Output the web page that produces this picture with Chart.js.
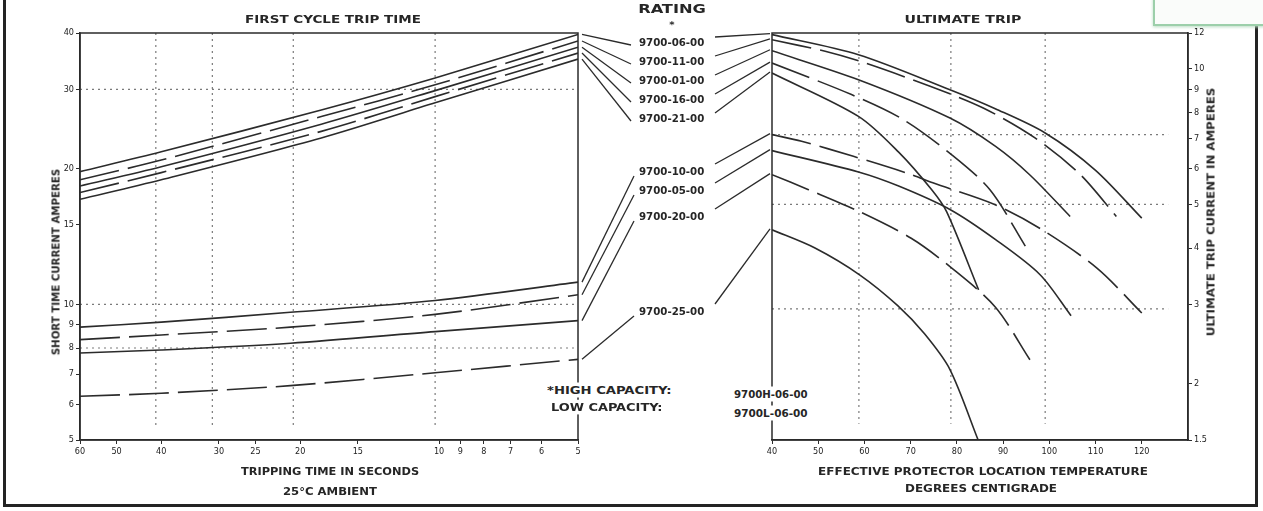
<!DOCTYPE html>
<html>
<head>
<meta charset="utf-8">
<script src="https://cdn.jsdelivr.net/npm/chart.js@4.4.1/dist/chart.umd.min.js"></script>
<style>
  body { margin: 0; background: #fff; }
  #wrap { position: relative; width: 1263px; height: 511px; overflow: hidden; background: #fff;
          font-family: "Liberation Sans Narrow", "DejaVu Sans Condensed", "Liberation Sans", sans-serif; color: #262626; }
  canvas { position: absolute; left: 0; top: 0; }
  .t { position: absolute; white-space: nowrap; line-height: 1; font-size: 11px; font-weight: bold; }
  .c { transform-origin: center center; }
  .l { transform-origin: left center; }
  .frame { position: absolute; left: 3px; top: -4px; width: 1255px; height: 511px; box-sizing: border-box;
           border: 3px solid #232323; border-top: none; }
  .stamp { position: absolute; left: 1153px; top: -3px; width: 112px; height: 29px; box-sizing: border-box;
           border: 2px solid #9ccfaa; background: #fafcfa; box-shadow: 0 1px 3px #b9dcc2; }
</style>
</head>
<body>
<div id="wrap">
  <div class="frame"></div>
  <div class="stamp"></div>
  <canvas id="left" width="1263" height="511"></canvas>
  <canvas id="right" width="1263" height="511"></canvas>
</div>
<script>
// ---- data ----
const upperRatings = ['9700-06-00', '9700-11-00', '9700-01-00', '9700-16-00', '9700-21-00'];
const lowerRatings = ['9700-10-00', '9700-05-00', '9700-20-00', '9700-25-00'];

// first cycle trip time (seconds -> amperes)
const upperTimes = [60, 40, 18, 10.2, 5];
const ft0600 = [19.7, 21.8, 27.0, 31.8, 39.7];
const ft1100 = [18.9, 20.9, 26.1, 30.7, 38.4];
const ft0100 = [18.3, 20.2, 25.1, 29.8, 37.2];
const ft1600 = [17.7, 19.6, 24.2, 28.9, 36.1];
const ft2100 = [17.1, 18.9, 23.4, 28.0, 35.0];
const lowerTimes = [60, 40, 21, 10.2, 5];
const ft1000 = [8.9, 9.13, 9.6, 10.2, 11.2];
const ft0500 = [8.35, 8.55, 8.9, 9.5, 10.5];
const ft2000 = [7.8, 7.92, 8.2, 8.7, 9.2];
const ft2500 = [6.25, 6.35, 6.6, 7.05, 7.55];

// ultimate trip (deg C -> amperes)
const ut0600T = [40, 58.7, 78.5, 88.3, 99.1, 110, 120];
const ut0600A = [11.9, 10.74, 8.98, 8.15, 7.2, 5.95, 4.66];
const ut1100T = [40, 51.5, 60.1, 74.2, 85.7, 96.9, 106.7, 114.5];
const ut1100A = [11.59, 10.93, 10.3, 9.14, 8.18, 7.02, 5.82, 4.7];
const ut0100T = [40, 58.7, 78.5, 88.3, 95.8, 104.5];
const ut0100A = [10.96, 9.45, 7.77, 6.73, 5.81, 4.7];
const ut1600T = [40, 57.2, 68.4, 78.9, 87.2, 94.8];
const ut1600A = [10.29, 8.76, 7.71, 6.44, 5.38, 4.04];
const ut2100T = [40, 58.7, 67.4, 74.6, 77.8, 84.7];
const ut2100A = [9.78, 7.84, 6.53, 5.38, 4.81, 3.23];
const ut1000T = [40, 46.4, 57.6, 70.2, 74.8, 88.3, 98, 110.3, 120];
const ut1000A = [7.14, 6.9, 6.39, 5.82, 5.58, 4.99, 4.42, 3.61, 2.87];
const ut0500T = [40, 58.7, 67.4, 78.5, 88.3, 98, 104.7];
const ut0500A = [6.58, 5.9, 5.49, 4.87, 4.18, 3.49, 2.83];
const ut2000T = [40, 47.9, 58.7, 70.2, 78.9, 88.3, 95.8];
const ut2000A = [5.82, 5.39, 4.83, 4.2, 3.61, 2.96, 2.26];
const ut2500T = [40, 49.3, 59.1, 67.2, 73, 78.5, 84.6];
const ut2500A = [4.39, 4.0, 3.48, 2.98, 2.58, 2.15, 1.5];

// axes
const leftXTicks = [60, 50, 40, 30, 25, 20, 15, 10, 9, 8, 7, 6, 5];
const leftYTicks = [5, 6, 7, 8, 9, 10, 15, 20, 30, 40];
const rightXTicks = [40, 50, 60, 70, 80, 90, 100, 110, 120];
const rightYTicks = [1.5, 2, 3, 4, 5, 6, 7, 8, 9, 10, 12];
const leftHGrid = [30, 10, 8];
const leftVGrid = [41.1, 31.0, 20.7, 10.2];
const rightHGrid = [7.14, 5, 2.93];
const rightVGrid = [58.8, 78.7, 99.1];

// ---- layout ----
const upperLabelY = [42, 61, 80, 99, 118];
const lowerLabelY = [171, 190, 216, 311];
const labelLeft = 639, labelW = 65;

const ink = '#2b2b2b';
Chart.defaults.font.family = '"Liberation Sans Narrow", "DejaVu Sans Condensed", "Liberation Sans", sans-serif';
Chart.defaults.color = '#222';

function series(label, xs, ys, dashed) {
  return {
    label: label,
    data: xs.map((x, i) => ({ x: x, y: ys[i] })),
    borderColor: ink, borderWidth: 1.6, borderDash: dashed ? [40, 9] : [],
    pointRadius: 0, fill: false, tension: 0.3
  };
}

const boxPlugin = {
  id: 'box',
  beforeDatasetsDraw(chart, args, o) {
    const ctx = chart.ctx, xs = chart.scales.x, ys = chart.scales.y;
    ctx.save();
    ctx.strokeStyle = '#7a7a7a'; ctx.lineWidth = 1.2; ctx.setLineDash([2, 4]);
    o.h.forEach(v => {
      const y = ys.getPixelForValue(v);
      ctx.beginPath(); ctx.moveTo(chart.chartArea.left, y); ctx.lineTo(xs.getPixelForValue(o.hTo), y); ctx.stroke();
    });
    o.v.forEach(v => {
      const x = xs.getPixelForValue(v);
      ctx.beginPath(); ctx.moveTo(x, chart.chartArea.top); ctx.lineTo(x, ys.getPixelForValue(o.vTo)); ctx.stroke();
    });
    ctx.restore();
  },
  afterDraw(chart, args, o) {
    const ctx = chart.ctx, a = chart.chartArea;
    ctx.save();
    ctx.strokeStyle = ink; ctx.lineWidth = 1.5;
    ctx.strokeRect(a.left, a.top, a.right - a.left, a.bottom - a.top);
    // leader lines to the rating labels
    ctx.lineWidth = 1.3;
    chart.data.datasets.forEach((ds, i) => {
      const lead = o.leads[i];
      const p = o.atEnd ? ds.data[ds.data.length - 1] : ds.data[0];
      const px = chart.scales.x.getPixelForValue(p.x), py = chart.scales.y.getPixelForValue(p.y);
      ctx.beginPath();
      if (o.atEnd) { ctx.moveTo(px + 4, py); ctx.lineTo(lead[0], lead[1]); }
      else { ctx.moveTo(lead[0], lead[1]); ctx.lineTo(px - 2, py - 1); }
      ctx.stroke();
    });
    ctx.restore();
  }
};

function axis(type, ticks, extra) {
  return Object.assign({
    type: type,
    afterBuildTicks: s => { s.ticks = ticks.map(v => ({ value: v })); },
    ticks: { autoSkip: false, maxRotation: 0, padding: 2, font: { size: 9 }, color: '#222', callback: v => String(v) },
    grid: { drawOnChartArea: false, drawTicks: true, tickLength: 4, color: ink },
    border: { display: true, color: ink, width: 1.5 }
  }, extra);
}

const common = {
  responsive: false, animation: false, devicePixelRatio: 1,
  plugins: { legend: { display: false }, tooltip: { enabled: false } }
};

new Chart(document.getElementById('left'), {
  type: 'line',
  data: {
    datasets: [
      series(upperRatings[0], upperTimes, ft0600, false),
      series(upperRatings[1], upperTimes, ft1100, true),
      series(upperRatings[2], upperTimes, ft0100, false),
      series(upperRatings[3], upperTimes, ft1600, true),
      series(upperRatings[4], upperTimes, ft2100, false),
      series(lowerRatings[0], lowerTimes, ft1000, false),
      series(lowerRatings[1], lowerTimes, ft0500, true),
      series(lowerRatings[2], lowerTimes, ft2000, false),
      series(lowerRatings[3], lowerTimes, ft2500, true)
    ]
  },
  options: Object.assign({}, common, {
    layout: { padding: { left: 50, top: 33, right: 685, bottom: 49 } },
    scales: {
      x: axis('logarithmic', leftXTicks, { reverse: true, min: 5, max: 60, position: 'bottom', afterFit: s => { s.height = 22; } }),
      y: axis('logarithmic', leftYTicks, { min: 5, max: 40, position: 'left', afterFit: s => { s.width = 30; } })
    },
    plugins: Object.assign({}, common.plugins, {
      box: {
        h: leftHGrid, v: leftVGrid, hTo: 5.1, vTo: 5.4, atEnd: true,
        leads: upperLabelY.map(y => [631, y + 3]).concat(lowerLabelY.map(y => [634, y + 5]))
      }
    })
  }),
  plugins: [boxPlugin]
});

new Chart(document.getElementById('right'), {
  type: 'line',
  data: {
    datasets: [
      series(upperRatings[0], ut0600T, ut0600A, false),
      series(upperRatings[1], ut1100T, ut1100A, true),
      series(upperRatings[2], ut0100T, ut0100A, false),
      series(upperRatings[3], ut1600T, ut1600A, true),
      series(upperRatings[4], ut2100T, ut2100A, false),
      series(lowerRatings[0], ut1000T, ut1000A, true),
      series(lowerRatings[1], ut0500T, ut0500A, false),
      series(lowerRatings[2], ut2000T, ut2000A, true),
      series(lowerRatings[3], ut2500T, ut2500A, false)
    ]
  },
  options: Object.assign({}, common, {
    layout: { padding: { left: 772, top: 33, right: 45, bottom: 49 } },
    scales: {
      x: axis('linear', rightXTicks, { min: 40, max: 130, position: 'bottom', afterFit: s => { s.height = 22; } }),
      y: axis('logarithmic', rightYTicks, { min: 1.5, max: 12, position: 'right', afterFit: s => { s.width = 30; } })
    },
    plugins: Object.assign({}, common.plugins, {
      box: {
        h: rightHGrid, v: rightVGrid, hTo: 125.7, vTo: 1.63, atEnd: false,
        leads: upperLabelY.map(y => [715, y - 5]).concat(lowerLabelY.map(y => [715, y - 7]))
      }
    })
  }),
  plugins: [boxPlugin]
});

// ---- text ----
const wrap = document.getElementById('wrap');
function text(str, x, y, w, opts) {
  opts = opts || {};
  const el = document.createElement('div');
  el.className = 't ' + (opts.left ? 'l' : 'c');
  el.textContent = str;
  el.style.left = x + 'px'; el.style.top = y + 'px';
  if (opts.size) el.style.fontSize = opts.size + 'px';
  if (opts.bg) { el.style.background = '#fff'; el.style.padding = '2px 0'; }
  el.dataset.w = w;
  if (opts.rot) el.dataset.rot = '1';
  wrap.appendChild(el);
  return el;
}
function fit() {
  wrap.querySelectorAll('.t').forEach(el => {
    const k = (+el.dataset.w) / el.offsetWidth;
    let tf;
    if (el.dataset.rot) tf = 'translate(-50%,-50%) rotate(-90deg) scaleX(' + k + ')';
    else if (el.classList.contains('l')) tf = 'translateY(-50%) scaleX(' + k + ')';
    else tf = 'translate(-50%,-50%) scaleX(' + k + ')';
    el.style.transform = tf;
  });
}

text('FIRST CYCLE TRIP TIME', 333, 19, 176);
text('ULTIMATE TRIP', 963, 19, 117);
text('RATING', 672, 8, 68, { size: 13 });
text('*', 672, 25, 5, { size: 9 });
text('SHORT TIME CURRENT AMPERES', 56, 262, 186, { rot: true });
text('ULTIMATE TRIP CURRENT IN AMPERES', 1211, 212, 249, { rot: true });
text('TRIPPING TIME IN SECONDS', 330, 471, 178);
text('25\u00B0C AMBIENT', 330, 491, 94);
text('EFFECTIVE PROTECTOR LOCATION TEMPERATURE', 983, 471, 330);
text('DEGREES CENTIGRADE', 981, 488, 152);
upperRatings.forEach((r, i) => text(r, labelLeft, upperLabelY[i], labelW, { left: true }));
lowerRatings.forEach((r, i) => text(r, labelLeft, lowerLabelY[i], labelW, { left: true }));
text('*HIGH CAPACITY:', 547, 390, 125, { left: true, bg: true });
text('LOW CAPACITY:', 551, 407, 111, { left: true, bg: true });
text('9700H-06-00', 734, 394, 74, { left: true, bg: true });
text('9700L-06-00', 734, 413, 74, { left: true, bg: true });

fit();
if (document.fonts && document.fonts.ready) document.fonts.ready.then(fit);
</script>
</body>
</html>
